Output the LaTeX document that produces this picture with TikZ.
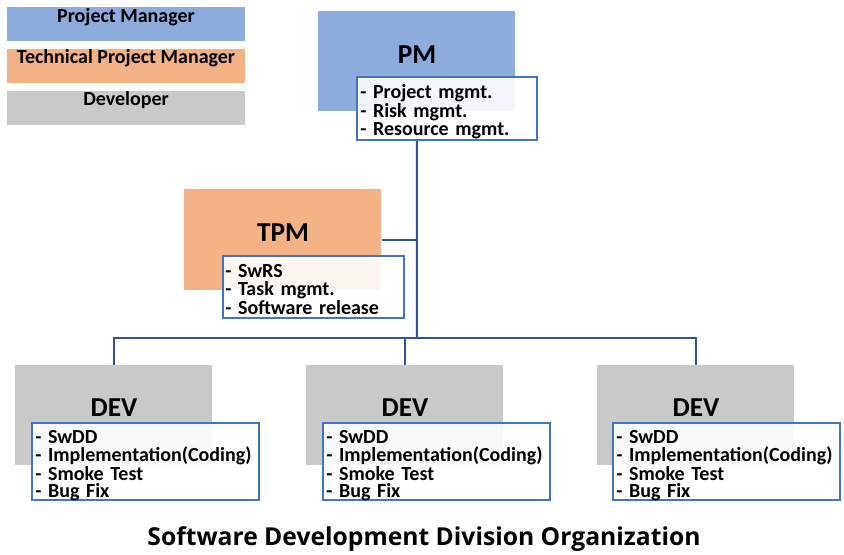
\documentclass[tikz,border=0pt]{standalone}
\usepackage{fontspec}
\setmainfont{Carlito}
\newfontfamily\captionfont{Open Sans}
\usepackage{tikz}
\usepackage{xcolor}

\definecolor{pmblue}{RGB}{143,170,220}
\definecolor{tpmorange}{RGB}{244,177,131}
\definecolor{devgray}{RGB}{201,201,201}
\definecolor{linkblue}{RGB}{47,85,151}
\definecolor{dutyblue}{RGB}{68,114,196}

\begin{document}
\begin{tikzpicture}[x=0.75pt,y=0.75pt,yscale=-1,xscale=1,
  role/.style={anchor=north west, inner sep=0pt, minimum width=147.75pt, minimum height=75pt},
  legend/.style={anchor=north west, inner sep=0pt, minimum width=178.5pt, minimum height=25.5pt},
  duty/.style={anchor=north west, draw=dutyblue, line width=1.5pt, fill=white, fill opacity=0.9, inner sep=0pt},
  dutytext/.style={anchor=base west, inner sep=0pt, align=left, text width=200pt, font=\bfseries\fontsize{15}{13}\selectfont},
  heading/.style={anchor=base, inner sep=0pt, font=\bfseries\fontsize{20.5}{24}\selectfont},
  legtext/.style={anchor=base, inner sep=0pt, font=\bfseries\fontsize{15}{18}\selectfont},
  link/.style={draw=linkblue, line width=1.5pt}]
\useasboundingbox (0,0) rectangle (844,555);

%Shape: Rectangle [legend]
\node[legend, fill=pmblue] (legpm) at (7,7) {};
\node[legend, fill=tpmorange] (legtpm) at (7,49) {};
\node[legend, fill=devgray] (legdev) at (7,91) {};
% Text Node
\node[legtext] (legpmtxt) at (126,23) {Project Manager};
% Text Node
\node[legtext] (legtpmtxt) at (126,64) {Technical Project Manager};
% Text Node
\node[legtext] (legdevtxt) at (126,106) {Developer};

%Shape: Rectangle [roles]
\node[role, fill=pmblue] (pm) at (318,11) {};
\node[role, fill=tpmorange, minimum height=75.75pt] (tpm) at (184,189) {};
\node[role, fill=devgray] (dev1) at (15,365) {};
\node[role, fill=devgray] (dev2) at (306,365) {};
\node[role, fill=devgray] (dev3) at (597,365) {};

%Straight Lines [connectors]
\coordinate (bus) at (417,338);
\draw[link] (pm.south) -- (bus);
\draw[link] (tpm.east) -- (tpm.east -| pm.south);
\draw[link] (dev1.north) |- (bus) -| (dev3.north);
\draw[link] (bus) -| (dev2.north);

% Text Node
\node[heading] (pmtxt) at (417,64) {PM};
% Text Node
\node[heading] (tpmtxt) at (283,242) {TPM};
% Text Node
\node[heading] (dev1txt) at (114,417) {DEV};
% Text Node
\node[heading] (dev2txt) at (405,417) {DEV};
% Text Node
\node[heading] (dev3txt) at (696,417) {DEV};

%Shape: Rectangle [duties]
\node[duty, minimum width=135pt, minimum height=47.25pt] (pmduty) at (356,76) {};
\node[duty, minimum width=135.75pt, minimum height=46.5pt] (tpmduty) at (222,255) {};
\node[duty, minimum width=170.25pt, minimum height=57.75pt] (dev1duty) at (31,422) {};
\node[duty, minimum width=170.25pt, minimum height=57.75pt] (dev2duty) at (322,422) {};
\node[duty, minimum width=170.25pt, minimum height=57.75pt] (dev3duty) at (612,422) {};
% Text Node
\node[dutytext] (pmlist) at ([shift={(4,23)}]pmduty.north west) {- Project mgmt.\\- Risk mgmt.\\- Resource mgmt.};
% Text Node
\node[dutytext] (tpmlist) at ([shift={(3,23)}]tpmduty.north west) {- SwRS\\- Task mgmt.\\- Software release};
% Text Node
\node[dutytext] (dev1list) at ([shift={(4,22)}]dev1duty.north west) {- SwDD\\- Implementation(Coding)\\- Smoke Test\\- Bug Fix};
% Text Node
\node[dutytext] (dev2list) at ([shift={(4,22)}]dev2duty.north west) {- SwDD\\- Implementation(Coding)\\- Smoke Test\\- Bug Fix};
% Text Node
\node[dutytext] (dev3list) at ([shift={(4,22)}]dev3duty.north west) {- SwDD\\- Implementation(Coding)\\- Smoke Test\\- Bug Fix};

% Text Node
\node[anchor=base, inner sep=0pt, font=\captionfont\bfseries\fontsize{18.5}{22}\selectfont] (caption) at (424,546) {Software Development Division Organization};

\end{tikzpicture}
\end{document}
